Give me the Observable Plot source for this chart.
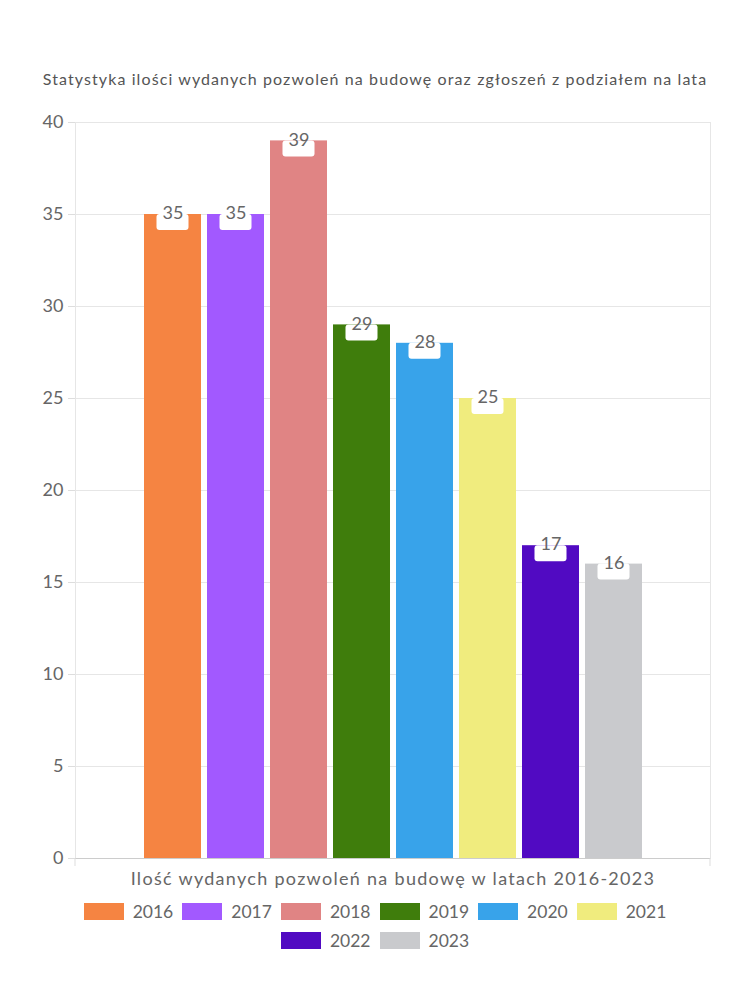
<!DOCTYPE html>
<html>
<head>
<meta charset="utf-8">
<script src="https://cdn.jsdelivr.net/npm/d3@7"></script>
<script src="https://cdn.jsdelivr.net/npm/@observablehq/plot@0.6"></script>
<style>
  body { margin: 0; background: #fff; font-family: Lato, "Open Sans", sans-serif; color: #666; }
  #wrap { position: relative; width: 750px; height: 1000px; }
  #title { position: absolute; top: 69px; left: 0; width: 750px; text-align: center; font-size: 16px; letter-spacing: 1.1px; color: #555; }
  #chart { position: absolute; top: 100px; left: 0; }
  #legend { position: absolute; top: 901px; left: 75px; width: 600px; display: flex; flex-wrap: wrap; justify-content: center; row-gap: 9px; column-gap: 9px; font-size: 17.5px; color: #666; }
  .item { display: flex; align-items: center; gap: 9px; height: 20px; }
  .sw { width: 40px; height: 17px; }
</style>
</head>
<body>
<div id="wrap">
  <div id="title"></div>
  <div id="chart"></div>
  <div id="legend"></div>
</div>
<script>
const title = "Statystyka ilości wydanych pozwoleń na budowę oraz zgłoszeń z podziałem na lata";
const categoryLabel = "Ilość wydanych pozwoleń na budowę w latach 2016-2023";
const years = ["2016", "2017", "2018", "2019", "2020", "2021", "2022", "2023"];
const values = [35, 35, 39, 29, 28, 25, 17, 16];
const colors = ["#F58442", "#A259FF", "#E08484", "#3F7D0C", "#38A3EA", "#F0EC7E", "#510AC2", "#C9CACD"];
const yTicks = [0, 5, 10, 15, 20, 25, 30, 35, 40];

const data = years.map((y, i) => ({year: y, value: values[i]}));

document.getElementById("title").textContent = title;

const edgeTicks = (index, scales, values, dim) => {
  const g = d3.create("svg:g");
  const y0 = dim.height - dim.marginBottom;
  for (const x of [dim.marginLeft, dim.width - dim.marginRight]) {
    g.append("line").attr("x1", x).attr("x2", x).attr("y1", y0).attr("y2", y0 + 8)
      .attr("stroke", "#ddd");
  }
  return g.node();
};

const chart = Plot.plot({
  width: 750,
  height: 790,
  marginTop: 22,
  marginLeft: 75,
  marginRight: 40,
  marginBottom: 32,
  style: {fontFamily: "Lato, 'Open Sans', sans-serif", fontSize: "18px", color: "#666", background: "#fff", overflow: "visible"},
  x: {domain: years, padding: 0.1, insetLeft: 61, insetRight: 61, axis: null},
  y: {domain: [0, 40], axis: null},
  color: {domain: years, range: colors},
  marks: [
    Plot.gridY(yTicks, {stroke: "#e6e6e6", strokeOpacity: 1}),
    Plot.frame({stroke: "#e6e6e6"}),
    Plot.axisY(yTicks, {tickSize: 7, tickPadding: 5, label: null, stroke: "#ddd", fill: "#666", fontSize: 18}),
    Plot.barY(data, {x: "year", y: "value", fill: "year"}),
    Plot.rect(data, {x: "year", y1: "value", y2: d => d.value - 16 / 18.4, fill: "#fff", insetLeft: 12.5, insetRight: 12.5, rx: 3}),
    Plot.text(data, {x: "year", y: "value", text: d => String(d.value), fill: "#666", fontSize: 18, dy: -1}),
    Plot.ruleY([0], {stroke: "#ccc"}),
    edgeTicks,
    Plot.text([categoryLabel], {frameAnchor: "bottom", dy: 26, fill: "#666", fontSize: 18})
  ]
});
document.getElementById("chart").appendChild(chart);
d3.select(chart).selectAll("text").filter(function() { return this.textContent === categoryLabel; })
  .style("letter-spacing", "1.3px");

const legend = d3.select("#legend");
years.forEach((y, i) => {
  const it = legend.append("div").attr("class", "item");
  it.append("div").attr("class", "sw").style("background", colors[i]);
  it.append("span").text(y);
});
</script>
</body>
</html>
